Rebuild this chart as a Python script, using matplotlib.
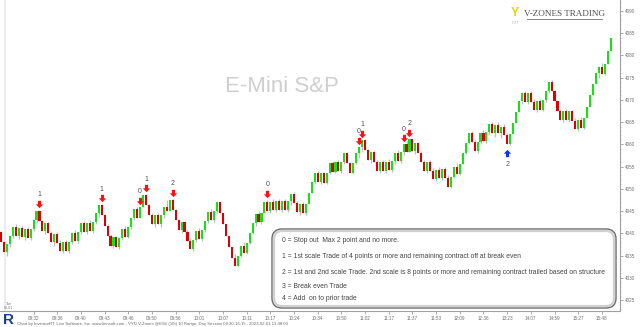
import matplotlib
matplotlib.use("Agg")
import matplotlib.pyplot as plt
from matplotlib.lines import Line2D
from matplotlib.patches import FancyBboxPatch
from matplotlib.path import Path
from matplotlib.ticker import MultipleLocator

matplotlib.rcParams["font.sans-serif"] = "Liberation Sans"
matplotlib.rcParams["font.family"] = "sans-serif"

# ES day session, 10-tick range bars (closes, one per bar)
first_open = 4040.25
closes = [
    4038.0, 4035.75, 4037.5, 4039.5, 4041.5, 4039.5, 4041.25, 4039.25, 4041.0, 4039.0,
    4041.0, 4043.0, 4045.0, 4042.75, 4040.5, 4042.25, 4040.0, 4038.0, 4039.75, 4037.75,
    4036.0, 4038.0, 4036.0, 4038.0, 4040.0, 4038.25, 4040.25, 4042.25, 4040.25, 4042.25,
    4040.5, 4042.5, 4044.5, 4046.25, 4044.0, 4041.75, 4039.5, 4037.25, 4039.25, 4037.0,
    4039.0, 4041.0, 4039.25, 4041.5, 4043.5, 4045.5, 4043.5, 4046.0, 4048.5, 4046.25,
    4044.0, 4042.0, 4044.0, 4042.0, 4044.0, 4046.0, 4045.0, 4047.5, 4045.25, 4043.0,
    4040.75, 4042.5, 4040.25, 4038.25, 4036.5, 4038.5, 4040.5, 4038.75, 4040.75, 4042.75,
    4044.75, 4043.0, 4045.0, 4047.0, 4044.5, 4042.0, 4039.5, 4037.0, 4034.5, 4032.75,
    4035.0, 4037.25, 4035.5, 4037.75, 4040.0, 4042.25, 4044.25, 4042.5, 4044.5, 4047.0,
    4045.0, 4047.0, 4045.25, 4047.25, 4045.25, 4047.25, 4045.25, 4047.25, 4048.75, 4046.75,
    4044.75, 4046.5, 4044.5, 4046.5, 4049.0, 4051.5, 4053.5, 4051.5, 4053.5, 4051.25,
    4053.5, 4055.75, 4053.75, 4056.0, 4054.0, 4056.0, 4058.0, 4055.75, 4053.5, 4055.75,
    4058.0, 4059.5, 4061.0, 4058.75, 4056.5, 4058.25, 4056.0, 4054.0, 4056.0, 4054.0,
    4056.0, 4054.25, 4056.25, 4058.0, 4056.25, 4058.25, 4060.0, 4058.25, 4061.25, 4058.5,
    4060.25, 4058.0, 4056.0, 4054.0, 4056.0, 4054.0, 4052.25, 4054.25, 4052.5, 4054.5,
    4052.5, 4050.5, 4052.75, 4055.0, 4053.25, 4055.5, 4058.0, 4060.25, 4062.5, 4060.5,
    4058.5, 4060.5, 4062.5, 4060.75, 4062.75, 4064.5, 4062.5, 4064.25, 4062.5, 4064.0,
    4062.0, 4060.0, 4062.25, 4064.75, 4067.25, 4069.75, 4071.5, 4069.5, 4071.5, 4069.5,
    4067.75, 4069.75, 4067.75, 4070.0, 4072.0, 4074.0, 4072.0, 4069.75, 4067.5, 4065.5,
    4067.5, 4065.5, 4067.5, 4065.25, 4063.5, 4065.5, 4063.75, 4066.0, 4068.5, 4071.0,
    4073.5, 4076.0, 4077.5, 4075.75, 4078.0, 4081.0, 4084.0,
]
bar_range = 10 * 0.25  # 10 ticks of 0.25

time_ticks = [11 + 8 * k for k in range(25)]
time_labels = ["09:32", "09:36", "09:40", "09:43", "09:46", "09:50", "09:56", "10:01",
               "10:07", "10:11", "10:17", "10:24", "10:34", "10:50", "11:02", "11:17",
               "11:37", "11:53", "12:09", "12:36", "13:23", "14:07", "14:59", "15:27",
               "15:48"]
price_ticks = list(range(4025, 4095, 5))

# trade marks
sell_bars = [13, 34, 47, 49, 58, 90, 121, 122, 136, 138]
sell_tags = ["1", "1", "0", "1", "2", "0", "0", "1", "0", "2"]
buy_bars = [171]
buy_tags = ["2"]

key_lines = [
    "0 = Stop out  Max 2 point and no more.",
    "1 = 1st scale Trade of 4 points or more and remaining contract off at break even",
    "2 = 1st and 2nd scale Trade. 2nd scale is 8 points or more and remaining contract trailed based on structure",
    "3 = Break even Trade",
    "4 = Add  on to prior trade",
]
key_y = [241, 257, 272, 287, 299]

footer = ("Chart by InvestorRT, Linn Software, Inc. www.linnsoft.com - VYD V-Zones "
          "@ES# (10t) 10 Range, Day Session 09:30-16:15 - 2023-02-01 13:48:03")

opens = [first_open] + closes[:-1]
highs, lows = [], []
for o, c in zip(opens, closes):
    if c >= o:
        highs.append(max(c, o))
        lows.append(min(o, c - bar_range))
    else:
        lows.append(min(c, o))
        highs.append(max(o, c + bar_range))

W, H = 640, 327
fig = plt.figure(figsize=(W / 100, H / 100), dpi=100)
fig.patch.set_facecolor("white")

# price pane: x axis line at y=311px, price scale at x=620px
ax = fig.add_axes([0, (H - 311) / H, 620 / W, 311 / H])
px_bar = 2.96
ax.set_xlim(-1 / px_bar, 619 / px_bar)
ax.set_ylim(4022.52, 4092.47)
px_pt = 311 / (4092.47 - 4022.52)

idx = range(len(closes))
ax.vlines(idx, lows, highs, color="#bdbdbd", lw=0.9, zorder=2)
body_col = ["#16e016" if c >= o else "#dd0000" for o, c in zip(opens, closes)]
ax.bar(idx, [abs(c - o) for o, c in zip(opens, closes)],
       bottom=[min(o, c) for o, c in zip(opens, closes)],
       width=0.7, color=body_col, linewidth=0, zorder=3)

# block arrows
down_arrow = Path([(-0.42, 1), (0.42, 1), (0.42, 0.05), (1, 0.05), (0, -1),
                   (-1, 0.05), (-0.42, 0.05), (-0.42, 1)],
                  [Path.MOVETO] + [Path.LINETO] * 6 + [Path.CLOSEPOLY])
up_arrow = Path([(x, -y) for x, y in down_arrow.vertices], down_arrow.codes)

for b, t in zip(sell_bars, sell_tags):
    ax.scatter(b, highs[b] + 6 / px_pt, marker=down_arrow, s=28,
               color="#ff1010", linewidths=0, zorder=5)
    ax.text(b, highs[b] + 15 / px_pt, t, ha="center", va="center",
            fontsize=5, color="#505050", zorder=5)
for b, t in zip(buy_bars, buy_tags):
    ax.scatter(b, lows[b] - 9 / px_pt, marker=up_arrow, s=28,
               color="#1030ff", linewidths=0, zorder=5)
    ax.text(b, lows[b] - 20 / px_pt, t, ha="center", va="center",
            fontsize=5, color="#505050", zorder=5)

ax.axvline(4 / px_bar, color="#ececec", lw=1.5, zorder=1)

for side in ["top", "left"]:
    ax.spines[side].set_visible(False)
for side in ["right", "bottom"]:
    ax.spines[side].set_color("#a0a0a0")
    ax.spines[side].set_linewidth(0.8)

ax.yaxis.tick_right()
ax.set_yticks(price_ticks)
ax.set_yticklabels([str(p) for p in price_ticks])
ax.yaxis.set_minor_locator(MultipleLocator(1))
ax.set_xticks(time_ticks)
ax.set_xticklabels(time_labels)
ax.tick_params(axis="both", which="major", labelsize=3.3, colors="#8a8a8a",
               labelcolor="#707070", length=2, width=0.5, pad=1.5)
ax.tick_params(axis="y", which="minor", length=1, width=0.4, colors="#b0b0b0")

# overlay in pixel coordinates for titles, key box and footer
ov = fig.add_axes([0, 0, 1, 1], zorder=10)
ov.set_xlim(0, W)
ov.set_ylim(H, 0)
ov.axis("off")
ov.patch.set_alpha(0)

ov.text(282, 86, "E-Mini S&P", ha="center", va="center", fontsize=16,
        color="#cfcfcf")

ov.text(515, 13, "Y", ha="center", va="center", fontsize=9, fontweight="bold",
        color="#e8d400")
ov.text(515, 23, "V Z T", ha="center", va="center", fontsize=1.8, color="#999999")
ov.text(564.5, 14, "V-ZONES TRADING", ha="center", va="center", fontsize=6.6,
        family="Liberation Serif", color="#505050")
ov.add_line(Line2D([527, 602], [18.5, 18.5], color="#707070", lw=0.6))

box_out = FancyBboxPatch((272, 229), 344, 79, boxstyle="round,pad=0,rounding_size=10",
                         fc="white", ec="#6a6a6a", lw=1.0)
box_in = FancyBboxPatch((274, 231), 340, 75, boxstyle="round,pad=0,rounding_size=8",
                        fc="none", ec="#d0d0d0", lw=1.6)
ov.add_patch(box_out)
ov.add_patch(box_in)
for line, y in zip(key_lines, key_y):
    ov.text(282, y, line, ha="left", va="center", fontsize=4.9, color="#454545")

ov.text(9, 306, "Tue\n02-01", ha="center", va="center", fontsize=2.6,
        color="#777777", linespacing=1.0)
ov.text(8, 320, "R", ha="center", va="center", fontsize=11, fontweight="bold",
        color="#1d3f91")
ov.text(17, 324, footer, ha="left", va="center", fontsize=3.1, color="#6a6a6a")

fig.savefig("out.png", dpi=100, facecolor="white")
